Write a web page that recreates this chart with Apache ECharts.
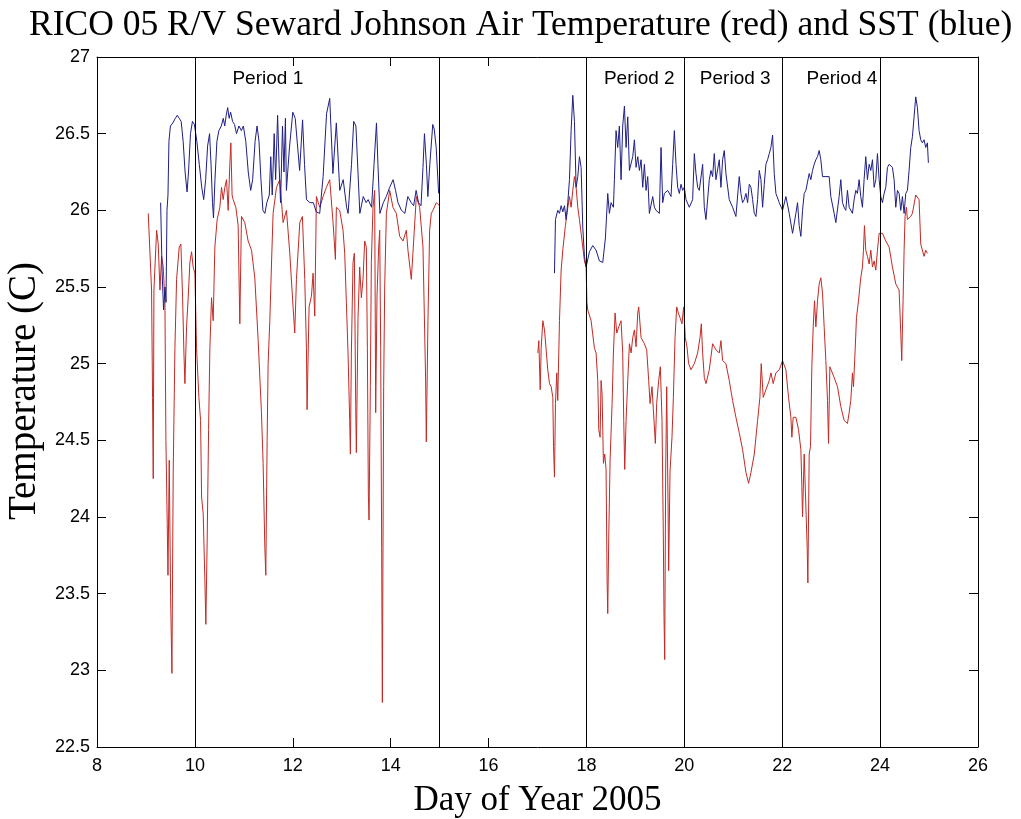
<!DOCTYPE html>
<html>
<head>
<meta charset="utf-8">
<script src="https://cdn.jsdelivr.net/npm/echarts@6/dist/echarts.min.js"></script>
<style>
html,body{margin:0;padding:0;background:#fff;}
#chart{width:1021px;height:819px;}
</style>
</head>
<body>
<div id="chart"></div>
<script>
// ---- data: [day of year, temperature C] ----
const sstSeg1 = [
[9.30,26.05],[9.33,25.6],[9.36,25.35],[9.39,25.5],[9.41,25.4],[9.43,26.0],[9.45,26.1],[9.47,26.45],[9.50,26.55],[9.55,26.57],
[9.60,26.6],[9.64,26.62],[9.68,26.6],[9.72,26.58],[9.76,26.45],[9.80,26.25],[9.84,26.12],[9.87,26.25],[9.91,26.5],[9.95,26.58],
[9.99,26.56],[10.04,26.45],[10.09,26.3],[10.14,26.15],[10.18,26.07],[10.22,26.2],[10.26,26.42],[10.30,26.5],[10.33,26.3],[10.36,26.05],
[10.38,25.95],[10.41,26.2],[10.45,26.45],[10.49,26.52],[10.54,26.55],[10.58,26.6],[10.61,26.55],[10.64,26.62],[10.67,26.67],[10.70,26.6],
[10.73,26.64],[10.77,26.58],[10.81,26.56],[10.85,26.5],[10.90,26.55],[10.95,26.52],[10.99,26.55],[11.04,26.45],[11.09,26.25],[11.14,26.13],
[11.18,26.2],[11.23,26.45],[11.27,26.55],[11.31,26.45],[11.35,26.2],[11.39,26.0],[11.43,25.98],[11.47,26.05],[11.52,26.1],[11.55,26.35],
[11.58,26.1],[11.62,26.5],[11.65,26.2],[11.69,26.62],[11.72,26.3],[11.75,26.05],[11.79,26.55],[11.82,26.25],[11.85,26.6],[11.87,26.13],
[11.93,26.4],[12.0,26.64],[12.05,26.6],[12.14,26.26],[12.2,26.59],[12.24,26.3],[12.28,26.07],[12.35,26.05],[12.42,26.05],[12.48,25.99],
[12.55,25.98],[12.62,26.22],[12.69,26.63],[12.755,26.73],[12.82,26.24],[12.89,26.57],[12.96,26.13],[13.03,26.2],[13.1,26.02],[13.13,25.98],
[13.2,26.3],[13.245,26.58],[13.29,26.55],[13.37,25.98],[13.44,26.09],[13.5,26.05],[13.54,26.07],[13.61,26.02],[13.66,26.3],[13.71,26.57],
[13.74,26.3],[13.78,25.98],[13.85,26.05],[13.91,26.09],[13.98,26.15],[14.05,26.2],[14.1,26.13],[14.15,26.05],[14.22,26.0],[14.29,25.98],
[14.35,26.09],[14.42,26.05],[14.47,26.03],[14.52,26.13],[14.57,26.05],[14.62,26.03],[14.66,26.28],[14.69,26.5],[14.73,26.3],[14.76,26.09],
[14.8,26.3],[14.86,26.56],[14.89,26.53],[14.93,26.41],[14.98,26.11]
];
const sstSeg2 = [
[17.347,25.59],[17.367,25.94],[17.414,26.0],[17.449,25.98],[17.483,26.03],[17.517,25.99],[17.551,26.03],[17.585,25.94],[17.619,26.05],[17.653,26.2],
[17.687,26.52],[17.721,26.75],[17.755,26.58],[17.789,26.15],[17.823,26.22],[17.857,26.35],[17.891,26.28],[17.925,25.89],[17.959,25.7],[17.993,25.63],
[18.061,25.73],[18.129,25.77],[18.197,25.74],[18.265,25.67],[18.333,25.66],[18.388,25.82],[18.435,26.11],[18.469,25.98],[18.503,26.05],[18.551,26.02],
[18.571,26.2],[18.605,26.52],[18.639,26.41],[18.673,26.55],[18.707,26.2],[18.741,26.55],[18.776,26.68],[18.81,26.41],[18.844,26.61],[18.878,26.26],
[18.946,26.35],[18.98,26.46],[19.014,26.28],[19.048,26.35],[19.082,26.26],[19.116,26.33],[19.15,26.15],[19.184,26.3],[19.218,26.13],[19.252,26.22],
[19.286,25.98],[19.354,26.09],[19.388,26.02],[19.422,26.0],[19.49,25.98],[19.524,26.41],[19.558,26.05],[19.592,26.11],[19.66,26.13],[19.728,26.09],
[19.762,26.3],[19.796,26.52],[19.83,26.3],[19.864,26.15],[19.898,26.11],[19.932,26.17],[19.966,26.13],[20.0,26.15],[20.034,26.07],[20.102,26.02],
[20.17,26.07],[20.204,26.37],[20.238,26.24],[20.272,26.15],[20.306,26.13],[20.374,26.3],[20.408,26.02],[20.442,25.94],[20.51,26.2],[20.544,26.26],
[20.578,26.22],[20.612,26.37],[20.646,26.2],[20.714,26.33],[20.748,26.15],[20.782,26.33],[20.816,26.39],[20.85,26.24],[20.918,26.07],[20.986,26.02],
[21.054,25.96],[21.122,26.22],[21.156,26.11],[21.19,26.05],[21.224,26.07],[21.259,26.11],[21.293,26.05],[21.327,26.17],[21.361,26.15],[21.395,26.07],
[21.429,25.98],[21.463,25.96],[21.497,26.07],[21.531,26.26],[21.565,26.2],[21.599,26.02],[21.633,26.17],[21.667,26.3],[21.701,26.33],[21.735,26.37],
[21.769,26.41],[21.803,26.49],[21.837,26.24],[21.871,26.11],[21.939,26.05],[22.007,26.0],[22.075,26.09],[22.143,25.98],[22.211,25.85],[22.279,25.98],
[22.313,26.05],[22.347,25.9],[22.381,25.83],[22.415,26.0],[22.449,26.11],[22.483,26.13],[22.551,26.24],[22.585,26.2],[22.619,26.26],[22.653,26.3],
[22.687,26.33],[22.721,26.35],[22.755,26.39],[22.789,26.33],[22.823,26.22],[22.959,26.22],[22.993,26.09],[23.061,25.98],[23.095,25.92],[23.163,26.09],
[23.197,26.2],[23.231,26.05],[23.265,26.02],[23.299,26.0],[23.333,26.13],[23.367,26.02],[23.435,25.98],[23.469,26.07],[23.503,26.13],[23.537,26.11],
[23.571,26.2],[23.605,26.09],[23.639,26.02],[23.673,26.2],[23.707,26.35],[23.741,26.2],[23.776,26.3],[23.81,26.26],[23.844,26.33],[23.878,26.15],
[23.912,26.2],[23.946,26.37],[23.98,26.2],[24.014,26.09],[24.048,26.05],[24.082,26.11],[24.116,26.15],[24.15,26.28],[24.184,26.3],[24.252,26.28],
[24.286,26.2],[24.32,26.02],[24.354,26.13],[24.388,26.11],[24.422,26.0],[24.456,26.09],[24.49,25.98],[24.524,26.11],[24.558,26.13],[24.592,26.26],
[24.626,26.41],[24.66,26.48],[24.694,26.61],[24.728,26.74],[24.762,26.67],[24.796,26.52],[24.83,26.46],[24.864,26.44],[24.898,26.46],[24.932,26.41],
[24.966,26.44],[24.986,26.31]
];
const airSeg1 = [
[9.047,25.98],[9.115,25.48],[9.135,24.78],[9.149,24.25],[9.163,25.48],[9.218,25.87],[9.251,25.78],[9.286,25.48],[9.32,25.7],[9.353,25.63],
[9.388,25.4],[9.408,24.5],[9.435,23.95],[9.45,23.62],[9.476,24.37],[9.504,23.48],[9.531,22.98],[9.557,24.3],[9.592,25.1],[9.626,25.55],
[9.68,25.76],[9.714,25.78],[9.749,25.43],[9.776,25.07],[9.796,24.87],[9.83,25.24],[9.863,25.43],[9.898,25.66],[9.932,25.73],[9.965,25.63],
[10.0,25.59],[10.034,25.1],[10.082,24.78],[10.116,24.63],[10.137,24.13],[10.17,24.02],[10.204,23.59],[10.224,23.3],[10.251,23.85],[10.28,24.57],
[10.306,25.1],[10.34,25.43],[10.374,25.28],[10.408,25.76],[10.455,25.94],[10.51,26.02],[10.544,26.15],[10.578,26.07],[10.612,26.15],[10.646,26.2],
[10.68,26.0],[10.714,26.3],[10.735,26.44],[10.76,26.1],[10.782,26.07],[10.837,26.02],[10.884,25.9],[10.918,25.26],[10.952,25.96],[11.02,25.92],
[11.088,25.8],[11.157,25.74],[11.224,25.56],[11.293,25.15],[11.36,24.68],[11.394,24.35],[11.429,23.8],[11.449,23.62],[11.476,24.5],[11.496,25.0],
[11.531,25.28],[11.565,25.65],[11.598,25.98],[11.667,26.15],[11.735,26.2],[11.802,25.92],[11.871,26.0],[11.939,25.72],[12.006,25.37],[12.04,25.2],
[12.075,25.55],[12.143,25.92],[12.197,25.96],[12.245,25.55],[12.279,25.1],[12.292,24.7],[12.333,25.37],[12.381,25.44],[12.415,25.59],[12.449,25.31],
[12.483,26.09],[12.551,26.02],[12.619,26.09],[12.687,26.15],[12.755,26.2],[12.823,25.92],[12.871,25.68],[12.891,26.02],[12.959,26.0],[13.027,25.87],
[13.061,25.72],[13.095,25.4],[13.129,25.07],[13.163,24.63],[13.177,24.41],[13.197,25.07],[13.231,25.66],[13.258,25.72],[13.286,24.72],[13.299,24.42],
[13.333,25.3],[13.367,25.63],[13.401,25.43],[13.435,25.55],[13.469,25.8],[13.503,25.76],[13.524,25.1],[13.544,24.15],[13.558,23.98],[13.585,24.85],
[13.605,25.66],[13.639,26.02],[13.673,26.13],[13.694,24.68],[13.721,25.44],[13.755,25.76],[13.776,25.87],[13.796,25.1],[13.816,23.8],[13.83,22.79],
[13.857,24.85],[13.878,25.5],[13.912,25.98],[13.98,26.13],[14.047,26.02],[14.116,25.98],[14.184,25.83],[14.252,25.8],[14.32,25.87],[14.353,25.74],
[14.422,25.55],[14.455,25.72],[14.524,26.09],[14.592,26.02],[14.66,25.76],[14.694,25.22],[14.714,24.9],[14.728,24.49],[14.762,25.28],[14.796,25.87],
[14.83,25.98],[14.864,26.0],[14.932,26.05],[15.0,26.03]
];
const airSeg2 = [
[17.007,25.07],[17.027,25.15],[17.055,24.83],[17.075,25.1],[17.109,25.28],[17.143,25.22],[17.177,25.09],[17.21,24.96],[17.245,24.87],[17.279,24.85],
[17.313,24.78],[17.327,24.46],[17.347,24.26],[17.367,24.74],[17.394,24.94],[17.414,24.76],[17.449,25.28],[17.483,25.61],[17.52,25.75],[17.57,25.9],
[17.62,26.02],[17.653,26.09],[17.687,26.02],[17.721,26.13],[17.755,26.22],[17.789,26.15],[17.823,26.02],[17.857,25.94],[17.891,25.85],[17.925,25.76],
[17.959,25.67],[17.993,25.63],[18.01,25.4],[18.027,25.35],[18.095,25.28],[18.163,25.1],[18.197,25.07],[18.231,24.89],[18.252,24.57],[18.279,24.52],
[18.299,24.89],[18.32,24.8],[18.347,24.35],[18.374,24.41],[18.401,24.31],[18.422,23.59],[18.435,23.37],[18.456,23.87],[18.483,24.37],[18.524,24.74],
[18.551,25.07],[18.585,25.33],[18.619,25.2],[18.66,25.24],[18.707,25.28],[18.741,25.07],[18.762,24.63],[18.782,24.31],[18.81,24.63],[18.844,24.89],
[18.878,25.13],[18.912,25.07],[18.946,25.17],[18.98,25.22],[19.014,25.11],[19.048,25.33],[19.068,25.37],[19.116,25.17],[19.184,25.13],[19.231,25.09],
[19.272,24.89],[19.3,24.74],[19.34,24.85],[19.367,24.7],[19.408,24.48],[19.435,24.74],[19.476,24.89],[19.51,24.98],[19.544,24.63],[19.571,23.87],
[19.585,23.35],[19.599,23.07],[19.619,24.3],[19.64,24.85],[19.667,24.09],[19.68,23.65],[19.708,24.3],[19.748,24.52],[19.776,24.78],[19.81,25.17],
[19.844,25.37],[19.878,25.33],[19.912,25.3],[19.952,25.26],[19.986,25.37],[20.02,25.17],[20.054,25.11],[20.088,25.0],[20.136,24.96],[20.204,25.0],
[20.272,25.07],[20.32,25.17],[20.347,25.26],[20.374,25.07],[20.408,24.91],[20.442,24.87],[20.51,24.96],[20.578,25.13],[20.646,25.09],[20.714,25.07],
[20.748,25.15],[20.782,25.02],[20.85,25.0],[20.918,24.89],[20.986,24.76],[21.054,24.65],[21.122,24.55],[21.19,24.44],[21.259,24.29],[21.313,24.22],
[21.361,24.29],[21.429,24.41],[21.497,24.63],[21.544,24.78],[21.571,25.0],[21.612,24.78],[21.667,24.83],[21.735,24.89],[21.769,24.94],[21.816,24.87],
[21.871,24.94],[21.939,24.96],[22.007,25.02],[22.075,24.96],[22.129,24.78],[22.177,24.65],[22.197,24.52],[22.224,24.65],[22.279,24.65],[22.333,24.57],
[22.381,24.44],[22.401,24.2],[22.415,24.0],[22.449,24.41],[22.483,24.41],[22.51,23.8],[22.524,23.57],[22.551,24.41],[22.578,24.46],[22.605,24.98],
[22.633,25.24],[22.66,25.41],[22.687,25.24],[22.721,25.41],[22.755,25.52],[22.789,25.56],[22.823,25.46],[22.857,25.24],[22.891,25.02],[22.925,24.76],
[22.946,24.48],[22.973,24.98],[23.0,24.98],[23.061,24.91],[23.129,24.85],[23.197,24.72],[23.265,24.63],[23.333,24.61],[23.367,24.68],[23.401,24.76],
[23.435,24.94],[23.456,24.85],[23.49,25.09],[23.517,25.3],[23.558,25.41],[23.605,25.56],[23.639,25.63],[23.66,25.74],[23.68,25.9],[23.707,25.74],
[23.741,25.7],[23.776,25.65],[23.81,25.74],[23.844,25.63],[23.878,25.67],[23.912,25.61],[23.946,25.74],[23.98,25.85],[24.048,25.85],[24.116,25.8],
[24.184,25.76],[24.252,25.63],[24.32,25.52],[24.388,25.48],[24.422,25.2],[24.442,25.02],[24.469,25.41],[24.49,25.74],[24.51,25.96],[24.537,26.02],
[24.558,25.94],[24.592,25.94],[24.626,25.96],[24.66,25.98],[24.728,26.1],[24.762,26.1],[24.796,26.07],[24.83,25.78],[24.898,25.7],[24.932,25.74],
[24.966,25.72]
];
const periodLines = [10, 15, 18, 20, 22, 24];
const periodLabels = [
  {name: 'Period 1', value: [11.49, 26.86]},
  {name: 'Period 2', value: [19.08, 26.86]},
  {name: 'Period 3', value: [21.04, 26.86]},
  {name: 'Period 4', value: [23.22, 26.86]}
];
const xTicks = {min: 8, max: 26, interval: 2};
const yTicks = {min: 22.5, max: 27, interval: 0.5};

const SANS = "'Liberation Sans', Arial, Helvetica, sans-serif";
const SERIF = "'Liberation Serif', 'Times New Roman', serif";
const BLUE = '#1e1e86';
const RED = '#c22a26';

const chart = echarts.init(document.getElementById('chart'), null, {renderer: 'canvas'});

function xAx(pos, showLabel) {
  return {
    type: 'value', position: pos, min: xTicks.min, max: xTicks.max, interval: xTicks.interval,
    axisLine: {show: true, onZero: false, lineStyle: {color: '#000', width: 1}},
    axisTick: {show: true, inside: true, length: 9, lineStyle: {color: '#000', width: 1}},
    axisLabel: {show: showLabel, color: '#000', fontSize: 18, fontFamily: SANS, margin: 10},
    splitLine: {show: false},
    name: showLabel ? 'Day of Year 2005' : '',
    nameLocation: 'middle', nameGap: 36,
    nameTextStyle: {color: '#000', fontSize: 35, fontFamily: SERIF}
  };
}
function yAx(pos, showLabel) {
  return {
    type: 'value', position: pos, min: yTicks.min, max: yTicks.max, interval: yTicks.interval,
    axisLine: {show: true, onZero: false, lineStyle: {color: '#000', width: 1}},
    axisTick: {show: true, inside: true, length: 9, lineStyle: {color: '#000', width: 1}},
    axisLabel: {show: showLabel, color: '#000', fontSize: 18, fontFamily: SANS, margin: 7},
    splitLine: {show: false},
    name: showLabel ? 'Temperature (C)' : '',
    nameLocation: 'middle', nameGap: 43,
    nameTextStyle: {color: '#000', fontSize: 39, fontFamily: SERIF, padding: [0, 0, 0, 22]}
  };
}
function lineSeries(data, color, extra) {
  return Object.assign({
    type: 'line', data: data, xAxisIndex: 0, yAxisIndex: 0,
    showSymbol: false, symbol: 'none', smooth: false,
    lineStyle: {color: color, width: 1}, z: 3, silent: true
  }, extra || {});
}

chart.setOption({
  animation: false,
  backgroundColor: '#fff',
  title: {
    text: 'RICO 05 R/V Seward Johnson Air Temperature (red) and SST (blue)',
    left: 24, top: 3,
    textStyle: {color: '#000', fontSize: 35.5, fontWeight: 'normal', fontFamily: SERIF}
  },
  grid: {left: 97, right: 43, top: 57, bottom: 72, containLabel: false, outerBoundsMode: 'none'},
  xAxis: [xAx('bottom', true), xAx('top', false)],
  yAxis: [yAx('left', true), yAx('right', false)],
  series: [
    lineSeries(airSeg1, RED, {
      markLine: {
        silent: true, symbol: ['none', 'none'], animation: false,
        label: {show: false},
        lineStyle: {color: '#000', width: 1, type: 'solid'},
        data: periodLines.map(d => ({xAxis: d}))
      }
    }),
    lineSeries(airSeg2, RED),
    lineSeries(sstSeg1, BLUE),
    lineSeries(sstSeg2, BLUE),
    {
      type: 'scatter', data: periodLabels, symbolSize: 1,
      itemStyle: {color: 'rgba(0,0,0,0)', opacity: 1}, silent: true, z: 5,
      label: {show: true, position: 'inside', formatter: '{b}', color: '#000', opacity: 1, fontSize: 19, fontFamily: SANS}
    }
  ]
});
</script>
</body>
</html>
